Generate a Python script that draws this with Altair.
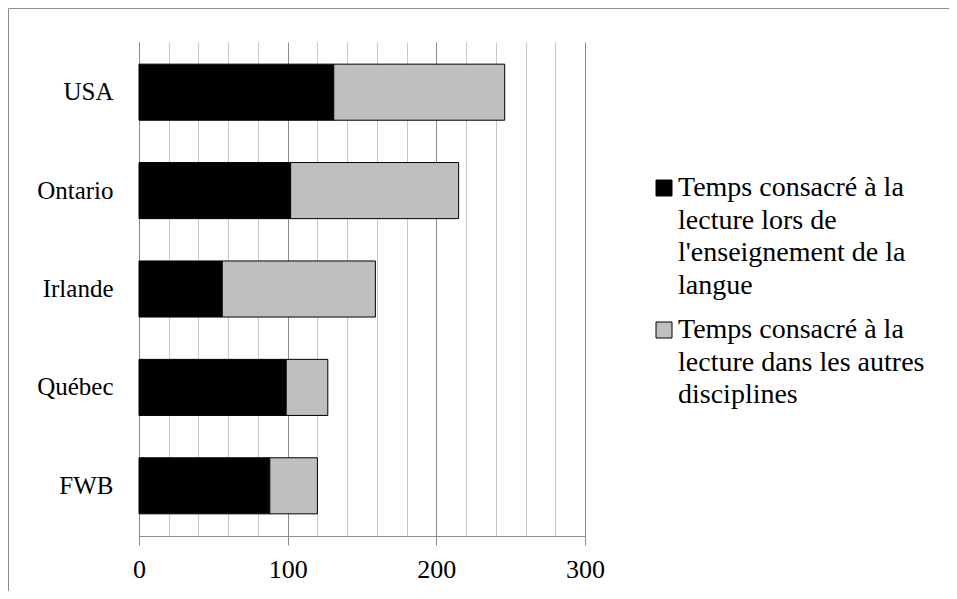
import altair as alt
import pandas as pd

countries = ["USA", "Ontario", "Irlande", "Québec", "FWB"]
lecture_langue = [131, 102, 56, 99, 88]
lecture_autres = [115, 113, 103, 28, 32]
series = [
    "Temps consacré à la\nlecture lors de\nl'enseignement de la\nlangue",
    "Temps consacré à la\nlecture dans les autres\ndisciplines",
]
series_colors = ["#000000", "#bfbfbf"]

rows = []
for c, a, b in zip(countries, lecture_langue, lecture_autres):
    rows.append({"pays": c, "serie": series[0], "valeur": a, "ordre": 0})
    rows.append({"pays": c, "serie": series[1], "valeur": b, "ordre": 1})
df = pd.DataFrame(rows)

FONT = "Liberation Serif"

bars = alt.Chart(df).mark_bar(stroke="#000000", strokeWidth=1).encode(
    y=alt.Y(
        "pays:N",
        sort=countries,
        title=None,
        scale=alt.Scale(paddingInner=0.43, paddingOuter=0.225),
        axis=alt.Axis(
            ticks=False,
            domain=True,
            domainColor="#8c8c8c",
            labelPadding=26,
            labelFont=FONT,
            labelFontSize=25,
            labelColor="#000000",
            grid=False,
        ),
    ),
    x=alt.X(
        "valeur:Q",
        stack="zero",
        title=None,
        scale=alt.Scale(domain=[0, 300], nice=False),
        axis=alt.Axis(
            values=list(range(0, 301, 20)),
            labelExpr="datum.value % 100 === 0 ? datum.label : ''",
            grid=True,
            gridColor={
                "condition": {"test": "datum.value % 100 === 0", "value": "#8c8c8c"},
                "value": "#c8c8c8",
            },
            gridWidth=1,
            tickColor={
                "condition": {"test": "datum.value % 100 === 0", "value": "#8c8c8c"},
                "value": "transparent",
            },
            tickSize=9,
            domainColor="#8c8c8c",
            labelPadding=11,
            labelFont=FONT,
            labelFontSize=26,
            labelColor="#000000",
            labelFlush=False,
        ),
    ),
    color=alt.Color(
        "serie:N",
        scale=alt.Scale(domain=series, range=series_colors),
        legend=alt.Legend(
            title=None,
            orient="none",
            legendX=511,
            legendY=132,
            symbolType="square",
            symbolSize=256,
            symbolStrokeColor="#000000",
            symbolStrokeWidth=1,
            symbolOpacity=1,
            labelExpr="split(datum.label, '\\n')",
            labelFont=FONT,
            labelFontSize=28,
            labelColor="#000000",
            labelLimit=0,
            labelOffset=0,
            rowPadding=16,
        ),
    ),
    order=alt.Order("ordre:Q"),
)

one = pd.DataFrame({"a": [0]})
border_left = alt.Chart(one).mark_rule(color="#8c8c8c", strokeWidth=1).encode(
    x=alt.value(-130.5), y=alt.value(-33.5), y2=alt.value(2000)
)
border_top = alt.Chart(one).mark_rule(color="#8c8c8c", strokeWidth=1).encode(
    x=alt.value(-130.5), x2=alt.value(2000), y=alt.value(-33.5)
)

chart = alt.layer(border_left, border_top, bars).properties(
    width=446,
    height=494,
    autosize=alt.AutoSizeParams(type="none"),
    padding={"left": 131, "top": 34, "right": 364, "bottom": 55},
).configure(
    style={"guide-label": {"lineHeight": 32.5}},
    view={"stroke": None},
)

chart.save("out.html", embed_options={"renderer": "svg", "actions": False})
